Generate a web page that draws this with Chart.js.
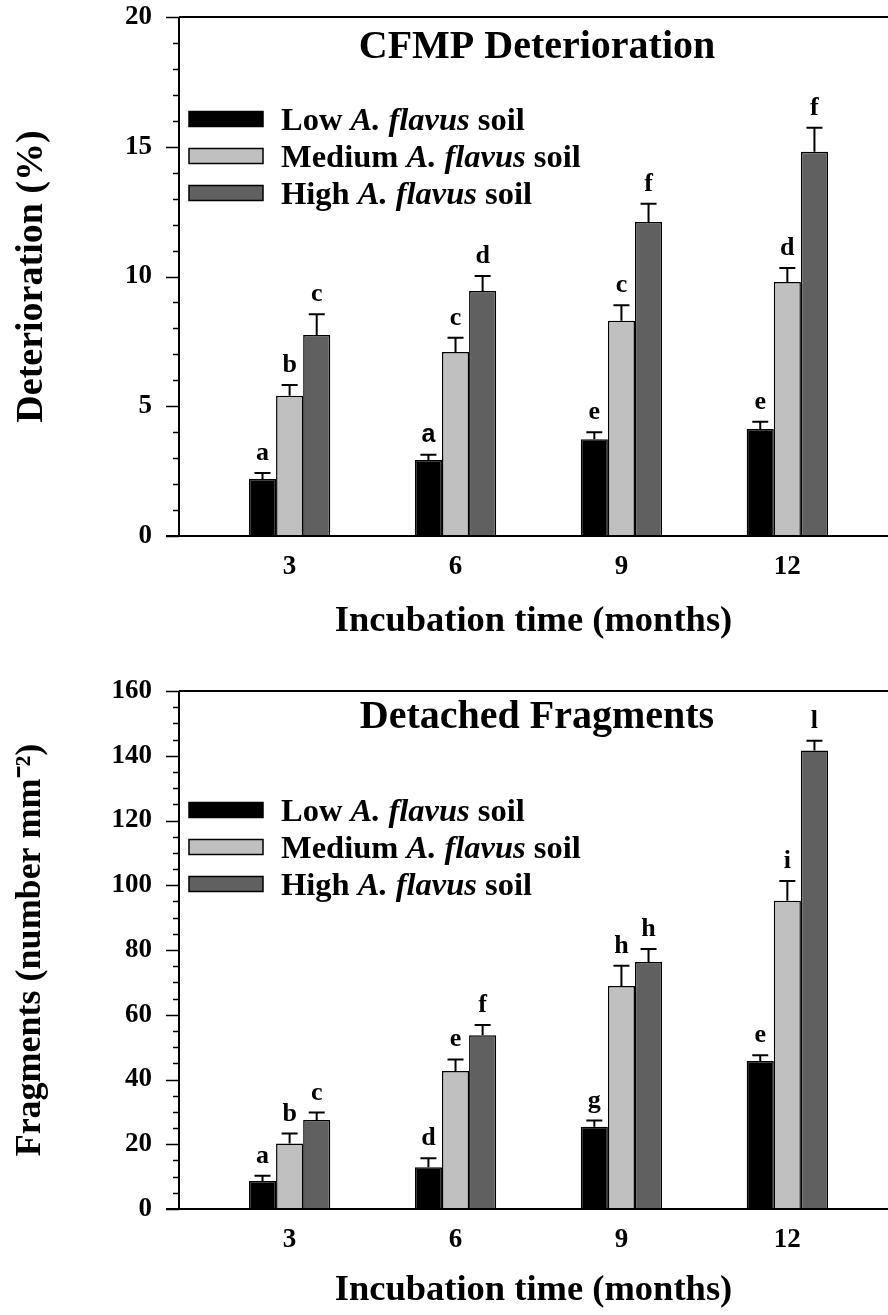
<!DOCTYPE html>
<html>
<head>
<meta charset="utf-8">
<script src="https://cdn.jsdelivr.net/npm/chart.js@4.4.0/dist/chart.umd.min.js"></script>
<style>
  body { margin: 0; background: #fff; }
  .panel { position: absolute; left: 0; width: 888px; }
</style>
</head>
<body>
<div class="panel" style="top:0;height:657px"><canvas id="detChart" width="888" height="657"></canvas></div>
<div class="panel" style="top:657px;height:658px"><canvas id="fragChart" width="888" height="658"></canvas></div>
<script>
// Incubation time (months)
const months = [3, 6, 9, 12];
const soilLevels = ['Low', 'Medium', 'High'];

// CFMP deterioration (%)
const detLow = [2.2, 2.93, 3.73, 4.12];
const detMedium = [5.4, 7.09, 8.29, 9.79];
const detHigh = [7.75, 9.44, 12.1, 14.81];
const detLowErr = [0.23, 0.2, 0.27, 0.28];
const detMediumErr = [0.42, 0.55, 0.6, 0.54];
const detHighErr = [0.8, 0.58, 0.7, 0.92];
const detLowLetters = ['a', 'a', 'e', 'e'];
const detMediumLetters = ['b', 'c', 'c', 'd'];
const detHighLetters = ['c', 'd', 'f', 'f'];

// Detached fragments (number mm-2)
const fragLow = [8.65, 12.9, 25.4, 45.7];
const fragMedium = [20.2, 42.6, 68.9, 95.2];
const fragHigh = [27.5, 53.7, 76.3, 141.6];
const fragLowErr = [1.65, 2.8, 1.9, 1.8];
const fragMediumErr = [3.1, 3.6, 6.2, 6.1];
const fragHighErr = [2.3, 3.1, 4.0, 3.0];
const fragLowLetters = ['a', 'd', 'g', 'e'];
const fragMediumLetters = ['b', 'e', 'h', 'i'];
const fragHighLetters = ['c', 'f', 'h', 'l'];

const barColors = ['#000000', '#c0c0c0', '#606060'];
const serif = '"Liberation Serif", "Times New Roman", serif';

function points(values) {
  return values.map((v, i) => ({ x: months[i], y: v }));
}

// axes, ticks, error bars, letters, title and legend
const figurePlugin = {
  id: 'figure',
  afterDatasetsDraw(chart, args, opts) {
    const ctx = chart.ctx;
    const area = chart.chartArea;
    const ys = chart.scales.y;
    ctx.save();
    ctx.strokeStyle = '#000';
    ctx.lineWidth = 2;
    ctx.beginPath();
    ctx.moveTo(area.left, area.top); ctx.lineTo(area.right, area.top);
    ctx.moveTo(area.left, area.top); ctx.lineTo(area.left, area.bottom);
    ctx.moveTo(area.left - 13, area.bottom); ctx.lineTo(area.right, area.bottom);
    ctx.stroke();

    ctx.lineWidth = 1.5;
    for (let v = ys.min; v <= ys.max + 1e-9; v += opts.minorStep) {
      const py = Math.round(ys.getPixelForValue(v)) + 0.5;
      const major = Math.abs(v / opts.majorStep - Math.round(v / opts.majorStep)) < 1e-6;
      ctx.beginPath();
      ctx.moveTo(area.left - (major ? 13 : 6), py);
      ctx.lineTo(area.left, py);
      ctx.stroke();
    }

    ctx.lineWidth = 2;
    ctx.textAlign = 'center';
    ctx.textBaseline = 'alphabetic';
    ctx.fillStyle = '#000';
    chart.data.datasets.forEach((ds, i) => {
      const meta = chart.getDatasetMeta(i);
      meta.data.forEach((bar, j) => {
        const val = ds.data[j].y;
        const errTop = ys.getPixelForValue(val + ds.errors[j]);
        ctx.beginPath();
        ctx.moveTo(bar.x, bar.y);
        ctx.lineTo(bar.x, errTop);
        ctx.moveTo(bar.x - 8, errTop);
        ctx.lineTo(bar.x + 8, errTop);
        ctx.stroke();
        const sans = (opts.sansLetters || []).some(p => p[0] === i && p[1] === j);
        ctx.font = sans ? 'bold 25px "Liberation Sans", Arial, sans-serif' : 'bold 26px ' + serif;
        ctx.fillText(ds.letters[j], bar.x, errTop - 13);
      });
    });

    // panel title
    ctx.font = 'bold 40px ' + serif;
    ctx.fillText(opts.title, 537, area.top + opts.titleOffset);

    // legend with italic species name
    ctx.textAlign = 'left';
    chart.data.datasets.forEach((ds, i) => {
      const cy = area.top + opts.legendTop + i * 37;
      ctx.fillStyle = ds.backgroundColor;
      ctx.fillRect(189, cy - 7.5, 74, 15);
      ctx.lineWidth = 1.5;
      ctx.strokeRect(189, cy - 7.5, 74, 15);
      ctx.fillStyle = '#000';
      const parts = [
        [soilLevels[i] + ' ', 'bold 32.5px ' + serif],
        ['A. flavus', 'italic bold 32.5px ' + serif],
        [' soil', 'bold 32.5px ' + serif]
      ];
      let tx = 281;
      parts.forEach(([txt, font]) => {
        ctx.font = font;
        ctx.fillText(txt, tx, cy + 11);
        tx += ctx.measureText(txt).width;
      });
    });
    ctx.restore();
  }
};

function makeChart(canvasId, cfg) {
  const ctx = document.getElementById(canvasId).getContext('2d');
  return new Chart(ctx, {
    type: 'bar',
    data: {
      datasets: [
        { label: 'Low A. flavus soil', data: points(cfg.low), errors: cfg.lowErr, letters: cfg.lowLetters,
          backgroundColor: barColors[0], borderColor: '#000', borderWidth: 1.5 },
        { label: 'Medium A. flavus soil', data: points(cfg.medium), errors: cfg.mediumErr, letters: cfg.mediumLetters,
          backgroundColor: barColors[1], borderColor: '#000', borderWidth: 1.5 },
        { label: 'High A. flavus soil', data: points(cfg.high), errors: cfg.highErr, letters: cfg.highLetters,
          backgroundColor: barColors[2], borderColor: '#000', borderWidth: 1.5 }
      ]
    },
    options: {
      responsive: false, animation: false, devicePixelRatio: 1,
      categoryPercentage: 0.49, barPercentage: 1.0,
      layout: { padding: { top: cfg.padTop, left: 0, right: 0, bottom: 0 } },
      scales: {
        x: {
          type: 'linear', min: 1, max: 13.82, offset: false,
          afterBuildTicks: (s) => { s.ticks = months.map(v => ({ value: v })); },
          afterFit: (s) => { s.height = cfg.xHeight; s.paddingLeft = 0; s.paddingRight = 0; s.paddingTop = 0; s.paddingBottom = 0; },
          grid: { display: false, drawTicks: false }, border: { display: false },
          ticks: { color: '#000', padding: 15, font: { family: serif, size: 27, weight: 'bold' } },
          title: { display: true, text: 'Incubation time (months)', color: '#000',
                   padding: { top: 0, bottom: cfg.xTitlePad }, font: { family: serif, size: 36.5, weight: 'bold' } }
        },
        y: {
          min: 0, max: cfg.yMax,
          afterFit: (s) => { s.width = 179; s.paddingTop = 0; s.paddingBottom = 0; s.paddingLeft = 0; s.paddingRight = 0; },
          grid: { display: false, drawTicks: false }, border: { display: false },
          ticks: { stepSize: cfg.majorStep, color: '#000', padding: 27, font: { family: serif, size: 27, weight: 'bold' } },
          title: { display: true, text: cfg.yTitle, color: '#000',
                   padding: { top: 9, bottom: 0 }, font: { family: serif, size: cfg.yTitleSize, weight: 'bold' } }
        }
      },
      plugins: {
        legend: { display: false },
        tooltip: { enabled: false },
        figure: {
          title: cfg.title, titleOffset: cfg.titleOffset, legendTop: cfg.legendTop,
          majorStep: cfg.majorStep, minorStep: cfg.minorStep, sansLetters: cfg.sansLetters
        }
      }
    },
    plugins: [figurePlugin]
  });
}

makeChart('detChart', {
  low: detLow, medium: detMedium, high: detHigh,
  lowErr: detLowErr, mediumErr: detMediumErr, highErr: detHighErr,
  lowLetters: detLowLetters, mediumLetters: detMediumLetters, highLetters: detHighLetters,
  yMax: 20, majorStep: 5, minorStep: 1, yTitle: 'Deterioration (%)', yTitleSize: 38,
  title: 'CFMP Deterioration', titleOffset: 41, legendTop: 102,
  padTop: 17, xHeight: 121, xTitlePad: 14, sansLetters: [[0, 1]]
});

makeChart('fragChart', {
  low: fragLow, medium: fragMedium, high: fragHigh,
  lowErr: fragLowErr, mediumErr: fragMediumErr, highErr: fragHighErr,
  lowLetters: fragLowLetters, mediumLetters: fragMediumLetters, highLetters: fragHighLetters,
  yMax: 160, majorStep: 20, minorStep: 5, yTitle: 'Fragments (number mm\u207B\u00B2)', yTitleSize: 36,
  title: 'Detached Fragments', titleOffset: 37, legendTop: 119,
  padTop: 34, xHeight: 106, xTitlePad: 3, sansLetters: []
});
</script>
</body>
</html>
